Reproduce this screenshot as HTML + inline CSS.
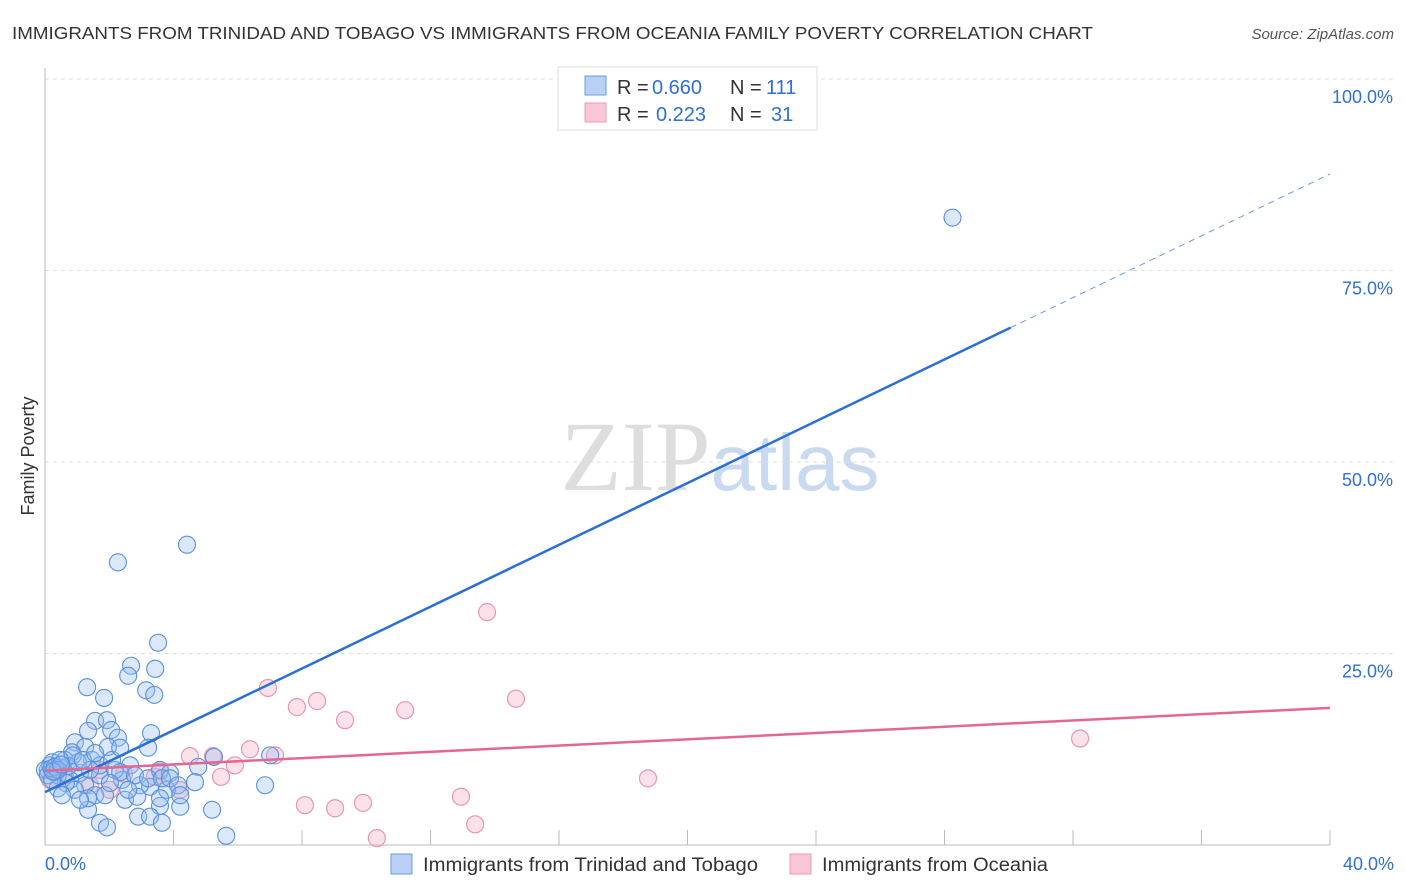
<!DOCTYPE html>
<html><head><meta charset="utf-8"><style>
body{margin:0;background:#fff;font-family:"Liberation Sans",sans-serif;}
svg{display:block}
</style></head><body>
<svg id="c" width="1406" height="892" xmlns="http://www.w3.org/2000/svg">
<text x="12" y="39" font-size="17.5" fill="#333" textLength="1081" lengthAdjust="spacingAndGlyphs">IMMIGRANTS FROM TRINIDAD AND TOBAGO VS IMMIGRANTS FROM OCEANIA FAMILY POVERTY CORRELATION CHART</text>
<text x="1394" y="39" font-size="15" fill="#555" font-style="italic" text-anchor="end">Source: ZipAtlas.com</text>
<text x="0" y="0" transform="translate(34,456) rotate(-90)" font-size="18" fill="#333" text-anchor="middle">Family Poverty</text>
<text x="720" y="490" font-size="100" fill="#ddd" text-anchor="middle" font-family="Liberation Serif,serif">ZIP<tspan fill="#c8d9f0" font-family="Liberation Sans,sans-serif" font-size="80">atlas</tspan></text>
<g id="grid"></g><g id="pts"></g><g id="lines"></g>
<g>
<rect x="558" y="67" width="259" height="63" fill="#fff" stroke="#ddd"/>
<rect x="585" y="76" width="21" height="19" fill="#b7d0f4" stroke="#6a9be0"/>
<rect x="585" y="103" width="21" height="19" fill="#f8c6d6" stroke="#eb9ab6"/>
<g font-size="20" fill="#333">
<text x="617" y="94">R =</text><text x="652" y="94" fill="#2f6fd6">0.660</text>
<text x="730" y="94">N =</text><text x="766" y="94" fill="#2f6fd6">111</text>
<text x="617" y="121">R =</text><text x="656" y="121" fill="#2f6fd6">0.223</text>
<text x="730" y="121">N =</text><text x="771" y="121" fill="#2f6fd6">31</text>
</g>
</g>
<g>
<rect x="391" y="854" width="21" height="20" fill="#b7d0f4" stroke="#6a9be0"/>
<text x="423" y="871" font-size="19" fill="#333" textLength="335" lengthAdjust="spacingAndGlyphs">Immigrants from Trinidad and Tobago</text>
<rect x="790" y="854" width="21" height="20" fill="#f8c6d6" stroke="#eb9ab6"/>
<text x="822" y="871" font-size="19" fill="#333" textLength="226" lengthAdjust="spacingAndGlyphs">Immigrants from Oceania</text>
</g>
<text x="45" y="870" font-size="18" fill="#2f6fd6">0.0%</text>
<text x="1394" y="870" font-size="18" fill="#2f6fd6" text-anchor="end">40.0%</text>
</svg>
<script>
const yTicks=[25,50,75,100];
const yTickLabels=["25.0%","50.0%","75.0%","100.0%"];
const blueX=[28.25,4.42,2.27,3.52,2.68,3.43,2.59,1.31,3.15,3.40,1.84,1.56,1.93,2.06,2.27,3.30,1.34,0.93,1.25,0.84,1.96,3.21,2.65,3.58,3.89,4.77,5.26,7.01,6.85,4.67,3.80,3.27,2.96,2.40,1.71,1.09,0.47,0.16,0.31,0.78,1.25,1.56,1.87,2.49,2.87,3.58,4.21,5.20,1.34,1.71,1.93,2.90,3.27,3.64,5.64,0.93,0.62,1.46,1.71,2.18,0.09,0.22,0.40,0.72,1.03,1.40,2.09,2.34,2.80,3.21,3.64,3.89,4.14,0.65,2.02,2.59,3.58,4.21,0.40,1.34,0.87,1.18,1.56,2.34,0.47,0,0.09,0.22,0.53,1.09,0.2,0.3,0.4,0.25,0.5];
const blueY=[81.9,39.2,36.9,26.4,23.4,23.0,22.1,20.6,20.2,19.6,19.2,16.2,16.3,15.0,14.0,14.6,14.9,13.4,12.8,12.1,12.8,12.7,10.4,9.8,9.4,10.2,11.5,11.7,7.8,8.2,7.2,7.6,7.8,8.5,9.1,9.4,10.1,10.4,9.5,8.5,7.8,6.5,6.5,5.9,6.3,5.1,5.0,4.6,4.6,2.9,2.3,3.7,3.7,2.9,1.2,7.2,11.1,11.1,10.4,9.8,9.8,10.8,9.1,10.3,10.8,9.8,11.1,9.5,9.1,8.7,8.7,8.7,7.8,8.1,8.1,7.2,6.1,6.5,7.4,6.1,11.7,11.1,12.0,12.7,11.1,9.8,9.1,8.5,6.5,5.9,10,10.2,9.8,9.6,10.5];
const pinkX=[13.76,14.66,6.94,7.84,8.47,9.34,11.21,6.38,5.23,4.51,5.48,5.91,7.16,8.09,9.03,9.90,10.33,12.95,13.39,18.77,32.22,2.46,3.42,3.58,1.71,0.62,0.31,0.16,1.40,4.20,2.02];
const pinkY=[30.4,19.1,20.5,18.0,18.8,16.3,17.6,12.5,11.6,11.6,8.9,10.4,11.7,5.2,4.8,5.5,0.9,6.3,2.7,8.7,13.9,9.3,8.9,9.6,9.8,9.1,9.8,8.5,7.8,7.2,7.2];
const blueTrend=[6.9,87.6];
const blueSolidEnd=30.06;
const pinkTrend=[9.7,17.9];
const xTicks=[4,8,12,16,20,24,28,32,36,40];

const NS="http://www.w3.org/2000/svg";
const sx=v=>45+v*32.125, sy=v=>845-v*7.66;
function mk(t,a,p){const e=document.createElementNS(NS,t);for(const k in a)e.setAttribute(k,a[k]);p.appendChild(e);return e;}
const grid=document.getElementById('grid');
yTicks.forEach((t,i)=>{
 const l=mk('line',{x1:45,x2:1394,y1:sy(t),y2:sy(t),stroke:'#ddd','stroke-dasharray':'4,4'},grid);
 
 
 const tx=mk('text',{x:1393,y:sy(t)+24,'font-size':18,fill:'#2f6fd6','text-anchor':'end'},grid);
 tx.textContent=yTickLabels[i];
 
 
});
const ax=mk('line',{x1:45,x2:1330,y1:845,y2:845,stroke:'#bbb'},grid);


const ay=mk('line',{x1:45,x2:45,y1:68,y2:845,stroke:'#bbb'},grid);


xTicks.forEach(t=>{
 const l=mk('line',{x1:sx(t),x2:sx(t),y1:830,y2:845,stroke:'#bbb'},grid);
 
 
});
const pts=document.getElementById('pts');
pinkX.forEach((x,i)=>{
 const c=mk('circle',{cx:sx(x),cy:sy(pinkY[i]),r:8.5,fill:'rgba(246,180,202,0.4)',stroke:'#e995b3','stroke-width':1.2},pts);
 
 
});
blueX.forEach((x,i)=>{
 const c=mk('circle',{cx:sx(x),cy:sy(blueY[i]),r:8.5,fill:'rgba(150,190,240,0.35)',stroke:'#5a90dc','stroke-width':1.1},pts);
 
 
});
const ln=document.getElementById('lines');
const by=x=>blueTrend[0]+(blueTrend[1]-blueTrend[0])*x/40;
const b1=mk('line',{x1:sx(0),y1:sy(by(0)),x2:sx(blueSolidEnd),y2:sy(by(blueSolidEnd)),stroke:'#2a6fd8','stroke-width':2.5},ln);


const b2=mk('line',{x1:sx(blueSolidEnd),y1:sy(by(blueSolidEnd)),x2:sx(40),y2:sy(by(40)),stroke:'#6a9be0','stroke-width':1,'stroke-dasharray':'6,5'},ln);


const p1=mk('line',{x1:sx(0),y1:sy(pinkTrend[0]),x2:sx(40),y2:sy(pinkTrend[1]),stroke:'#e4678f','stroke-width':2.5},ln);


</script>
</body></html>
